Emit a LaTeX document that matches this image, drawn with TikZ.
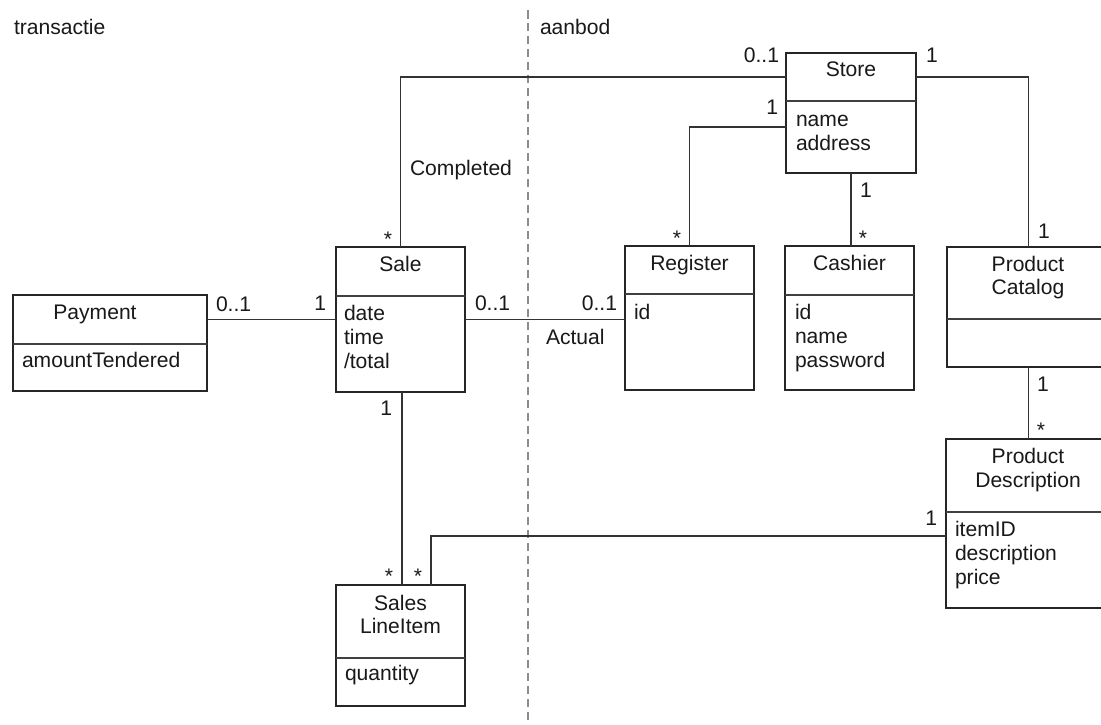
\documentclass[tikz,border=0pt]{standalone}
\usepackage{fontspec}
\setmainfont{Liberation Sans}
\begin{document}
\begin{tikzpicture}[x=0.02cm, y=-0.02cm,
  cls/.style={draw=black!85, line width=1.1pt, inner sep=0pt, outer sep=0pt, fill=white},
  link/.style={draw=black!80, line width=0.75pt},
  sep/.style={draw=black!75, line width=0.75pt},
  txt/.style={inner sep=0pt, outer sep=0pt, font=\fontsize{12}{14}\selectfont, text=black!90},
  lbl/.style={txt, anchor=base},
  attr/.style={txt, anchor=base west},
  zone/.style={draw=black!45, line width=0.6pt, dash pattern=on 0.17cm off 0.09cm}
]
\useasboundingbox (0,0) rectangle (1101,724);
\fill[white] (0,0) rectangle (1101,724);
\begin{scope}
\clip (0,0) rectangle (1101,724);

% zone separator and zone titles
\coordinate (divTop) at (528,10);
\coordinate (divBot) at (528,724);
\draw[zone] (divTop) -- (divBot);
\node[attr] (zoneT) at (14,34) {transactie};
\node[attr] (zoneA) at (540,34) {aanbod};

% class boxes
\node[cls, minimum width=3.88cm, minimum height=1.92cm] (pay)   at (110,343)    {};
\node[cls, minimum width=2.58cm, minimum height=2.90cm] (sale)  at (400.5,319.5) {};
\node[cls, minimum width=2.58cm, minimum height=2.42cm] (sli)   at (400.5,645.5) {};
\node[cls, minimum width=2.60cm, minimum height=2.40cm] (store) at (851,113)    {};
\node[cls, minimum width=2.58cm, minimum height=2.88cm] (reg)   at (689.5,318)  {};
\node[cls, minimum width=2.58cm, minimum height=2.88cm] (cash)  at (849.5,318)  {};
\node[cls, minimum width=3.26cm, minimum height=2.40cm] (pc)    at (1028.5,307) {};
\node[cls, minimum width=3.28cm, minimum height=3.38cm] (pd)    at (1028,523.5) {};

% compartment dividers
\draw[sep] (pay.west |- 0,344)   -- (pay.east |- 0,344);
\draw[sep] (sale.west |- 0,296)  -- (sale.east |- 0,296);
\draw[sep] (sli.west |- 0,658)   -- (sli.east |- 0,658);
\draw[sep] (store.west |- 0,101) -- (store.east |- 0,101);
\draw[sep] (reg.west |- 0,294)   -- (reg.east |- 0,294);
\draw[sep] (cash.west |- 0,295)  -- (cash.east |- 0,295);
\draw[sep] (pc.west |- 0,319)    -- (pc.east |- 0,319);
\draw[sep] (pd.west |- 0,512)    -- (pd.east |- 0,512);

% class names
\node[lbl] (payN)   at (95,319)    {Payment};
\node[lbl] (saleN)  at (400.5,271) {Sale};
\node[lbl] (regN)   at (689.5,270) {Register};
\node[lbl] (cashN)  at (849.5,270) {Cashier};
\node[lbl] (storeN) at (851,76)    {Store};
\node[lbl] (pcN1)   at (1028,271)  {Product};
\node[lbl] (pcN2)   at (1028,294)  {Catalog};
\node[lbl] (pdN1)   at (1028,463)  {Product};
\node[lbl] (pdN2)   at (1028,487)  {Description};
\node[lbl] (sliN1)  at (400.5,610) {Sales};
\node[lbl] (sliN2)  at (400.5,633) {LineItem};

% attributes
\node[attr] (payA1)   at (22,367)  {amountTendered};
\node[attr] (saleA1)  at (344,320) {date};
\node[attr] (saleA2)  at (344,344) {time};
\node[attr] (saleA3)  at (344,368) {/total};
\node[attr] (regA1)   at (634,319) {id};
\node[attr] (cashA1)  at (795,319) {id};
\node[attr] (cashA2)  at (795,343) {name};
\node[attr] (cashA3)  at (795,367) {password};
\node[attr] (storeA1) at (796,126) {name};
\node[attr] (storeA2) at (796,150) {address};
\node[attr] (pdA1)    at (955,536) {itemID};
\node[attr] (pdA2)    at (955,560) {description};
\node[attr] (pdA3)    at (955,584) {price};
\node[attr] (sliA1)   at (345,680) {quantity};

% associations
\draw[link] (sale.north) |- ([yshift=0.72cm]store.west);
\draw[link] ([yshift=0.72cm]store.east) -| (pc.north);
\draw[link] ([yshift=-0.28cm]store.west) -| (reg.north);
\draw[link] (store.south) -- (store.south |- cash.north);
\draw[link] (pay.east |- sale.west) -- (sale.west);
\draw[link] (sale.east) -- (reg.west |- sale.east);
\draw[link] ([xshift=0.03cm]sale.south) -- ([xshift=0.03cm]sli.north);
\draw[link] ([xshift=0.61cm]sli.north) |- ([yshift=-0.25cm]pd.west);
\draw[link] (pc.south) -- (pc.south |- pd.north);

% multiplicities and role names
\node[txt, anchor=base east] (m1) at (779,62)  {0..1};
\node[txt, anchor=base west] (m2) at (926,62)  {1};
\node[txt, anchor=base east] (m3) at (778,114) {1};
\node[txt, anchor=base west] (m4) at (860,197) {1};
\node[lbl] (m5) at (677,245) {*};
\node[lbl] (m6) at (863,245) {*};
\node[txt, anchor=base west] (m7) at (1038,238) {1};
\node[txt, anchor=base west] (m8) at (1037,391) {1};
\node[lbl] (m9) at (1041,437) {*};
\node[txt, anchor=base east] (m10) at (937,525) {1};
\node[lbl] (m11) at (388,246) {*};
\node[attr] (roleC) at (410,175) {Completed};
\node[attr] (m12) at (216,311) {0..1};
\node[txt, anchor=base east] (m13) at (326,310) {1};
\node[attr] (m14) at (475,310) {0..1};
\node[txt, anchor=base east] (m15) at (617,310) {0..1};
\node[attr] (roleA) at (546,344) {Actual};
\node[txt, anchor=base east] (m16) at (392,415) {1};
\node[lbl] (m17) at (389,583) {*};
\node[lbl] (m18) at (418,583) {*};
\end{scope}
\end{tikzpicture}
\end{document}
